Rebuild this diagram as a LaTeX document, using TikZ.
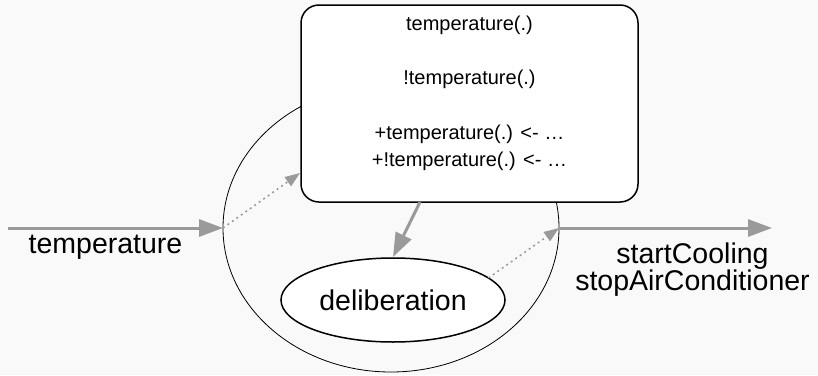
\documentclass[tikz,border=0pt]{standalone}
\usepackage{fontspec}
\setmainfont{Liberation Sans}
\usetikzlibrary{arrows.meta,shapes.geometric}
\definecolor{bg}{HTML}{F9F9F9}
\definecolor{arrowgray}{HTML}{9A9A9A}
\begin{document}
\begin{tikzpicture}[x=1pt,y=-1pt,
  flow/.style={draw=arrowgray, line width=3pt, -{Triangle[length=24pt,width=17pt]}},
  dotflow/.style={draw=arrowgray, line width=1.5pt, dash pattern=on 2pt off 3.5pt, -{Triangle[length=15pt,width=11pt]}},
  agentshape/.style={ellipse, draw, line width=0.8pt, minimum width=336pt, minimum height=288pt, inner sep=0pt, outer sep=0pt},
  kbbox/.style={draw, line width=1.5pt, rounded corners=18pt, fill=white, minimum width=337pt, minimum height=197pt, inner sep=0pt, outer sep=0pt},
  delib/.style={ellipse, draw, line width=1.5pt, fill=white, minimum width=224pt, minimum height=84pt, inner sep=0pt, outer sep=0pt, font=\fontsize{28.5}{30}\selectfont},
  biglabel/.style={font=\fontsize{28.5}{27}\selectfont, align=center, inner sep=0pt},
  kbtext/.style={font=\fontsize{20}{27.3}\selectfont, align=center, inner sep=0pt}]
\fill[bg] (0,0) rectangle (818,375);
\useasboundingbox (0,0) rectangle (818,375);

\node[agentshape] (agent) at (391,228) {};
\node[kbbox] (kb) at (469.5,103.5) {};
\node[kbtext, anchor=north] (kbt) at (469.5,15.4) {temperature(.)\\[27.3pt] !temperature(.)\\[27.3pt] +temperature(.) <- …\\ +!temperature(.) <- …};
\node[delib] (dl) at (393,300) {deliberation};

\coordinate (inStart) at (8,228);
\coordinate (outEnd) at (772,228);
\coordinate (kbIn) at (300,173);

\draw[flow] (inStart) -- (agent.west);
\draw[flow] (agent.east) -- (outEnd);
\draw[dotflow] (agent.west) -- (kbIn);
\draw[dotflow] (dl.13) -- (agent.east);
\draw[flow] ([xshift=-49.5pt]kb.south) -- ([yshift=1pt]dl.north);

\node[biglabel, anchor=base] (inLabel) at (105.5,253) {temperature};
\node[biglabel] (outLabel) at (692.5,270) {startCooling\\stopAirConditioner};
\end{tikzpicture}
\end{document}
